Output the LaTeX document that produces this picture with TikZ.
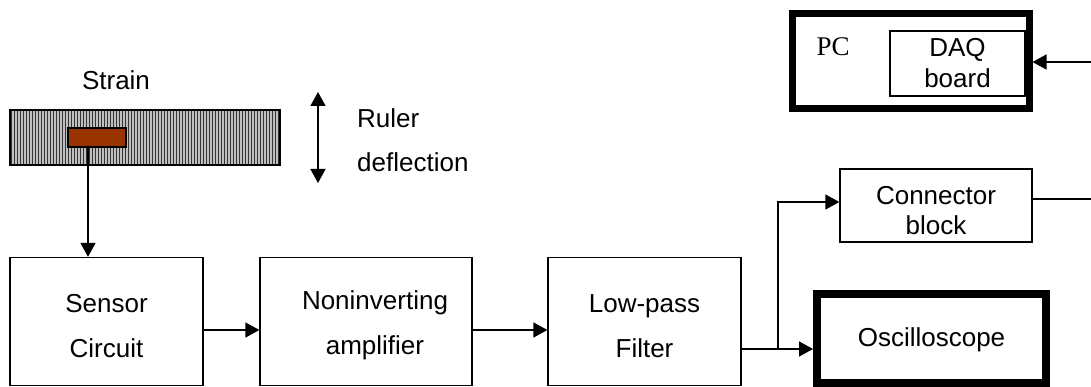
\documentclass[tikz,border=0pt]{standalone}
\usepackage{fontspec}
\setmainfont{Liberation Sans}
\newfontfamily\pcfont{Liberation Serif}
\usetikzlibrary{arrows.meta}
\definecolor{gaugecol}{RGB}{153,51,0}
\newcommand{\upstrut}[1]{\rule{0pt}{#1}}
\begin{document}
\begin{tikzpicture}[x=1pt,y=-1pt,
  box/.style={draw, line width=1.3pt, inner sep=0pt, align=center, font=\fontsize{26}{45}\selectfont},
  thickbox/.style={box, line width=8pt},
  txt/.style={inner sep=0pt, font=\fontsize{26}{30}\selectfont},
  arr/.style={line width=1.4pt, -{Triangle[length=14pt,width=15pt]}},
  conn/.style={line width=1.4pt}]
\useasboundingbox (0,0) rectangle (1091,387);
% ruler
\fill[gray!50] (10,110) rectangle (280,165);
\foreach \i in {0,...,89} \draw[black!80, line width=1.4pt] ({11.5+3*\i},110) -- ({11.5+3*\i},165);
\node[draw, line width=1.3pt, minimum width=270pt, minimum height=55pt, inner sep=0pt] (ruler) at (145,137.5) {};
\node[draw, line width=1.3pt, fill=gaugecol, minimum width=58pt, minimum height=19pt, inner sep=0pt] (gauge) at (97,137.5) {};
\coordinate (gaugeout) at (88,147);
\node[txt] (strain) at (116,80) {Strain};
% ruler deflection
\coordinate (rt) at (318,92);
\coordinate (rb) at (318,183);
\draw[line width=1.4pt, {Triangle[length=14pt,width=15pt]}-{Triangle[length=14pt,width=15pt]}] (rt) -- (rb);
\node[txt, anchor=west] (ruler1) at (357,118) {Ruler};
\node[txt, anchor=west] (ruler2) at (357,162) {deflection};
% chain
\node[box, minimum width=193pt, minimum height=128pt] (sensor) at (106.5,321.5) {\upstrut{26.7pt}Sensor\\Circuit};
\node[box, minimum width=212pt, minimum height=128pt] (noninv) at (366,321.5) {\upstrut{26.7pt}\hspace*{18pt}Noninverting\\\hspace*{18pt}amplifier};
\node[box, minimum width=193pt, minimum height=128pt] (lowpass) at (644.5,321.5) {\upstrut{26.7pt}Low-pass\\Filter};
\node[thickbox, minimum width=229pt, minimum height=89pt] (osc) at (931.5,338.5) {\upstrut{21.5pt}Oscilloscope};
\node[box, minimum width=192pt, minimum height=73pt, font=\fontsize{26}{30}\selectfont] (connector) at (936,205.5) {\upstrut{28.7pt}Connector\\block};
% PC
\node[box, line width=7pt, minimum width=237pt, minimum height=95pt] (pc) at (910.5,61.5) {};
\node[box, minimum width=135pt, minimum height=65pt, font=\fontsize{26}{31}\selectfont] (daq) at (957.5,63.5) {DAQ\\board};
\node[inner sep=0pt, font=\pcfont\fontsize{27}{30}\selectfont] (pclabel) at (833,47) {PC};
% connectors
\coordinate (y330) at (0,330);
\coordinate (y349) at (0,349);
\coordinate (branch) at (778,349);
\coordinate (y202) at (0,202);
\coordinate (y199) at (0,199);
\coordinate (edgeA) at (1091,199);
\coordinate (edgeB) at (1091,62);
\draw[arr] (gaugeout) -- (gaugeout |- sensor.north);
\draw[arr] (sensor.east |- y330) -- (noninv.west |- y330);
\draw[arr] (noninv.east |- y330) -- (lowpass.west |- y330);
\draw[arr] (lowpass.east |- y349) -- (osc.west |- y349);
\draw[arr] (branch) -- (branch |- y202) -- (connector.west |- y202);
\draw[conn] (connector.east |- y199) -- (edgeA);
\draw[arr] (edgeB) -- (pc.east |- edgeB);
\end{tikzpicture}
\end{document}
